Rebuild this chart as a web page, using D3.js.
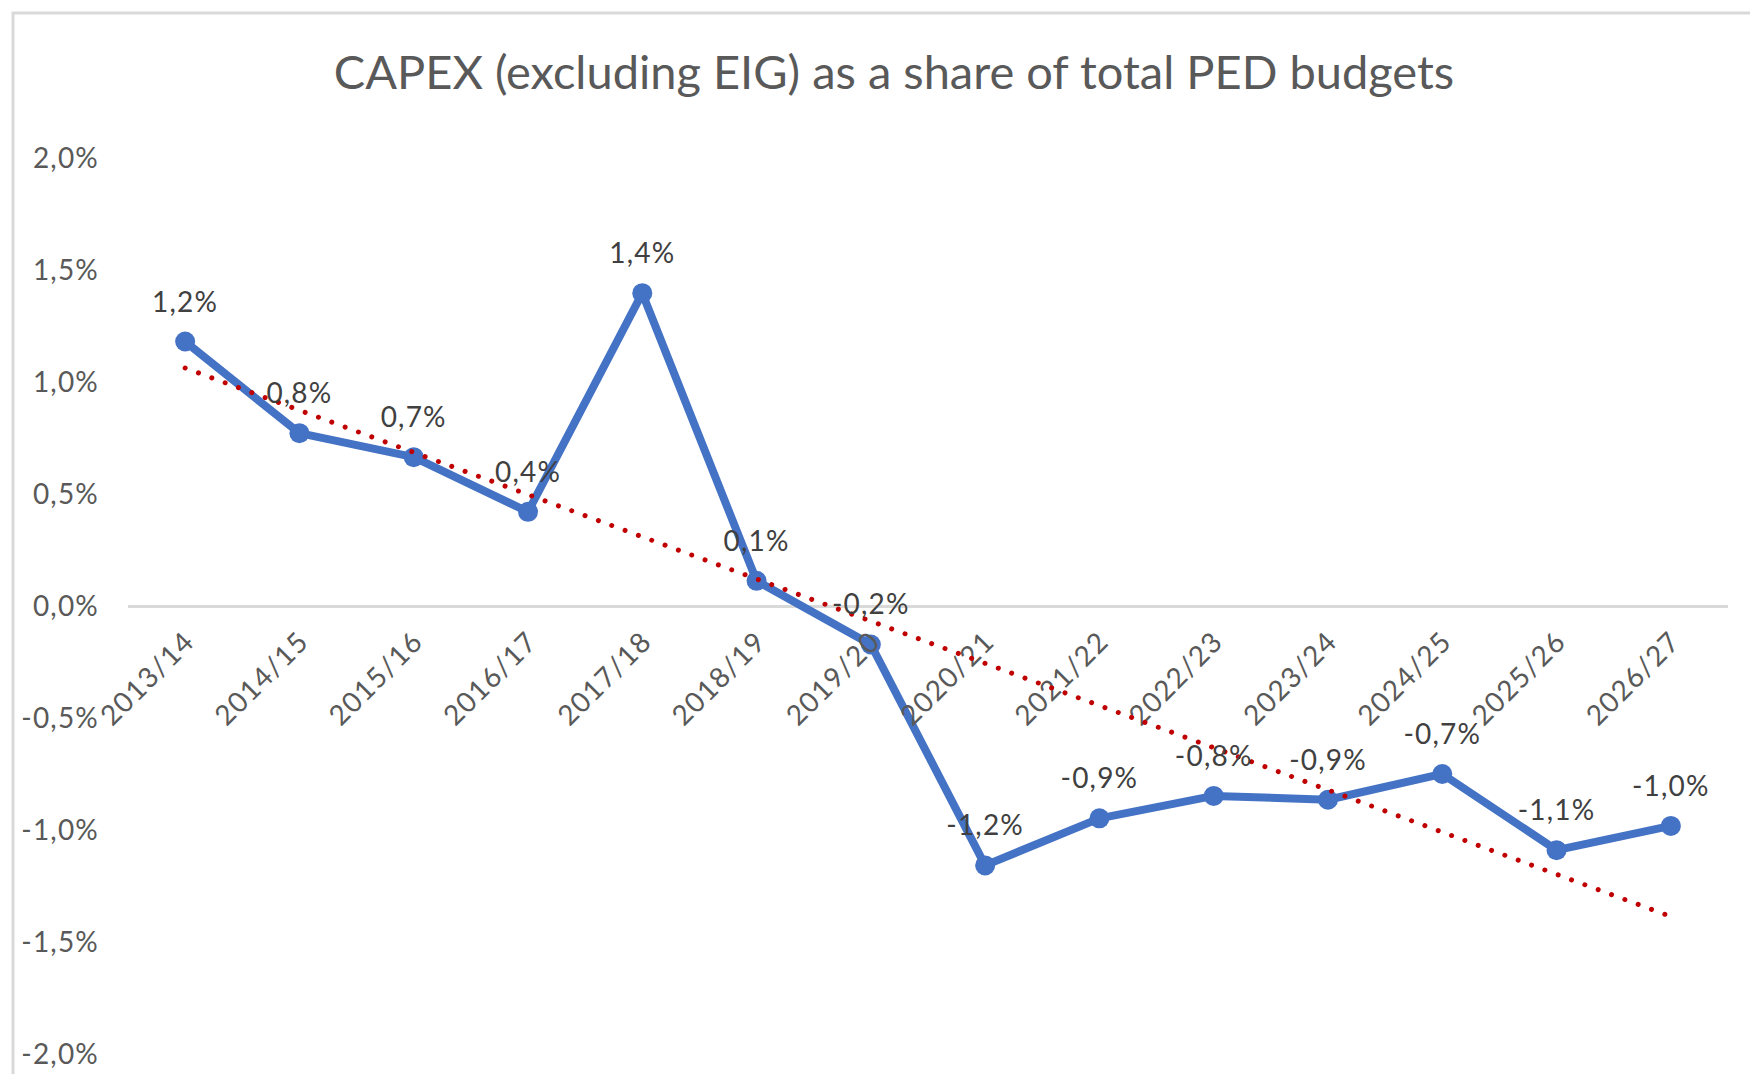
<!DOCTYPE html>
<html><head><meta charset="utf-8">
<script src="https://cdn.jsdelivr.net/npm/d3@7"></script>
<style>html,body{margin:0;padding:0;background:#fff;} svg{display:block;}</style>
</head><body>
<svg id="chart" width="1750" height="1074"></svg>
<script>
const categories = ["2013/14","2014/15","2015/16","2016/17","2017/18","2018/19","2019/20","2020/21","2021/22","2022/23","2023/24","2024/25","2025/26","2026/27"];
const values = [1.183, 0.774, 0.667, 0.423, 1.399, 0.115, -0.169, -1.155, -0.945, -0.845, -0.862, -0.747, -1.087, -0.979];
const dataLabels = ["1,2%","0,8%","0,7%","0,4%","1,4%","0,1%","-0,2%","-1,2%","-0,9%","-0,8%","-0,9%","-0,7%","-1,1%","-1,0%"];
const yTicks = [-2, -1.5, -1, -0.5, 0, 0.5, 1, 1.5, 2];
const title = "CAPEX (excluding EIG) as a share of total PED budgets";

const svg = d3.select("#chart");
const FONT = "Lato, 'Open Sans', sans-serif";

// frame
svg.append("rect").attr("x", 13).attr("y", 13).attr("width", 1800).attr("height", 1100)
  .attr("fill", "#fff").attr("stroke", "#d9d9d9").attr("stroke-width", 3);

const x = d3.scaleBand().domain(categories).range([128, 1728]);
const y = d3.scaleLinear().domain([-2, 2]).range([1054.7, 158.5]);
const cx = d => x(d) + x.bandwidth() / 2;

const loc = d3.formatLocale({decimal: ",", thousands: ".", grouping: [3], currency: ["", "€"], minus: "-"});
const fmt = loc.format(".1%");

// title
svg.append("text").attr("x", 894).attr("y", 71).attr("text-anchor", "middle")
  .attr("dominant-baseline", "central")
  .style("font-family", FONT).style("font-size", "47px").attr("fill", "#595959")
  .text(title);

// y axis labels
const yAxis = svg.append("g").attr("transform", "translate(99,0)")
  .call(d3.axisLeft(y).tickValues(yTicks).tickSize(0).tickPadding(0).tickFormat(v => fmt(v / 100)));
yAxis.select(".domain").remove();
yAxis.selectAll("text").style("font-family", FONT).style("font-size", "28px")
  .style("letter-spacing", "1.2px").attr("fill", "#595959");

// category axis line at zero (drawn beneath the series)
svg.append("line").attr("x1", x.range()[0]).attr("x2", x.range()[1])
  .attr("y1", y(0)).attr("y2", y(0))
  .attr("stroke", "#d9d9d9").attr("stroke-width", 3);

// series line
const line = d3.line().x((d, i) => cx(categories[i])).y(d => y(d));
svg.append("path").datum(values).attr("d", line)
  .attr("fill", "none").attr("stroke", "#4472C4").attr("stroke-width", 8)
  .attr("stroke-linejoin", "round");
svg.selectAll("circle.pt").data(values).join("circle").attr("class", "pt")
  .attr("cx", (d, i) => cx(categories[i])).attr("cy", d => y(d)).attr("r", 10)
  .attr("fill", "#4472C4");

// x axis labels
const xAxis = svg.append("g").attr("transform", `translate(0,${y(0)})`)
  .call(d3.axisBottom(x).tickSize(0).tickSizeOuter(0));
xAxis.select(".domain").remove();
xAxis.selectAll(".tick text")
  .attr("y", 0).attr("dy", "0.35em")
  .attr("transform", `translate(4,30) rotate(-45)`)
  .attr("text-anchor", "end")
  .style("font-family", FONT).style("font-size", "28px").style("letter-spacing", "1.2px")
  .attr("fill", "#595959");

// trendline (linear least squares, like a spreadsheet trendline)
const n = values.length;
const xs = d3.range(1, n + 1);
const mx = d3.mean(xs), my = d3.mean(values);
const slope = d3.sum(xs, (xi, i) => (xi - mx) * (values[i] - my)) / d3.sum(xs, xi => (xi - mx) ** 2);
const icpt = my - slope * mx;
svg.append("line")
  .attr("x1", cx(categories[0])).attr("y1", y(icpt + slope * 1))
  .attr("x2", cx(categories[n - 1])).attr("y2", y(icpt + slope * n))
  .attr("stroke", "#C00000").attr("stroke-width", 5)
  .attr("stroke-linecap", "round").attr("stroke-dasharray", "0.01 14.2");

// data labels
svg.selectAll("text.dl").data(values).join("text").attr("class", "dl")
  .attr("x", (d, i) => cx(categories[i])).attr("y", d => y(d) - 41)
  .attr("text-anchor", "middle").attr("dominant-baseline", "central")
  .style("font-family", FONT).style("font-size", "28px").style("letter-spacing", "1.2px")
  .attr("fill", "#404040")
  .text((d, i) => dataLabels[i]);
</script>
</body></html>
